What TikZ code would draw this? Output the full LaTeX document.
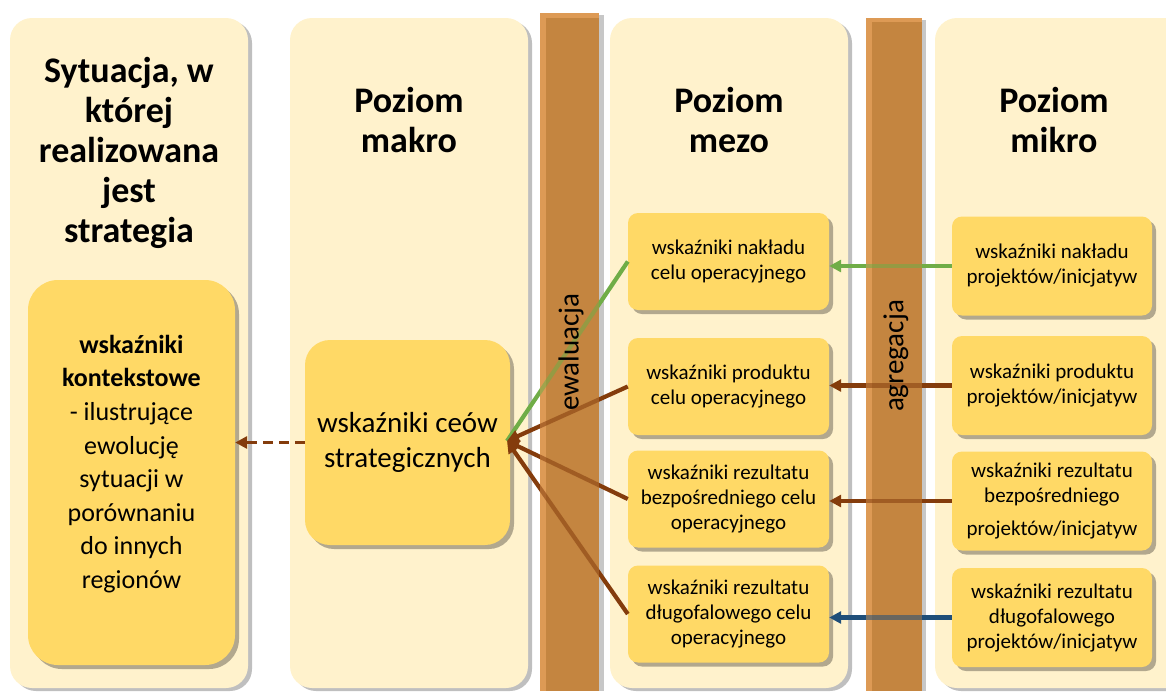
\documentclass[tikz,border=0pt]{standalone}
\usepackage{fontspec}
\setmainfont{Carlito}
\usetikzlibrary{shadows,arrows.meta}
\definecolor{colbg}{HTML}{FFF2CC}
\definecolor{boxbg}{HTML}{FFD966}
\definecolor{barc}{HTML}{C48540}
\definecolor{barl}{HTML}{DD9A55}
\definecolor{grn}{HTML}{70AD47}
\definecolor{brn}{HTML}{843C0C}
\definecolor{blu}{HTML}{1F4E79}
\begin{document}
\begin{tikzpicture}[x=1pt,y=-1pt,
  column/.style={fill=colbg, rounded corners=22pt, minimum width=238pt, minimum height=670pt, inner sep=0pt,
    drop shadow={shadow xshift=4pt,shadow yshift=-3pt,opacity=0.25,fill=black}},
  title/.style={font=\fontsize{36}{40}\selectfont\bfseries, align=center},
  bigbox/.style={fill=boxbg, align=center, inner sep=0pt,
    drop shadow={shadow xshift=4pt,shadow yshift=-4pt,opacity=0.3,fill=black}},
  smallbox/.style={fill=boxbg, rounded corners=10pt, minimum width=201pt, minimum height=97pt, inner sep=0pt,
    align=center, font=\fontsize{21}{25}\selectfont,
    drop shadow={shadow xshift=4pt,shadow yshift=-4pt,opacity=0.3,fill=black}},
  conn/.style={line width=4.2pt, -{Triangle[length=12pt,width=12pt]}},
  barlabel/.style={font=\fontsize{29}{32}\selectfont, rotate=90}
]
\useasboundingbox (0,0) rectangle (1166,691);
\clip (0,0) rectangle (1166,691);

% columns
\node[column] (c1) at (129,353) {};
\node[column] (c2) at (409,353) {};
\node[column] (c3) at (729,353) {};
\node[column, minimum width=260pt] (c4) at (1065,353) {};

% titles
\node[title] (t1) at (129,153) {Sytuacja, w\\której\\realizowana\\jest\\strategia};
\node[title] (t2) at (409,120) {Poziom\\makro};
\node[title] (t3) at (729,120) {Poziom\\mezo};
\node[title] (t4) at (1054,120) {Poziom\\mikro};

% bars (base)
\fill[barl] (540,13) rectangle (599,691);
\fill[barc] (546,18) rectangle (599,691);
\fill[black!22] (599,15) rectangle (604,691);
\fill[barl] (866,18) rectangle (922,691);
\fill[barc] (872,22) rectangle (922,691);
\fill[black!22] (922,20) rectangle (926,691);

% boxes
\node[bigbox, rounded corners=30pt, minimum width=207pt, minimum height=385pt] (ctx) at (131.5,472.5) {};
\node[align=center, font=\fontsize{26}{33.6}\selectfont] (ctxt) at (131.5,464)
  {\textbf{wskaźniki}\\\textbf{kontekstowe}\\- ilustrujące\\ewolucję\\sytuacji w\\porównaniu\\do innych\\regionów};
\node[bigbox, rounded corners=25pt, minimum width=205pt, minimum height=205pt,
      font=\fontsize{29}{35}\selectfont] (mac) at (407.5,442.5)
  {wskaźniki ceów\\strategicznych};

\node[smallbox] (mz1) at (728.5,261.5) {wskaźniki nakładu\\celu operacyjnego};
\node[smallbox] (mz2) at (728.5,386.5) {wskaźniki produktu\\celu operacyjnego};
\node[smallbox] (mz3) at (728.5,499) {wskaźniki rezultatu\\bezpośredniego celu\\operacyjnego};
\node[smallbox] (mz4) at (728.5,614) {wskaźniki rezultatu\\długofalowego celu\\operacyjnego};

\node[smallbox, minimum width=200pt, minimum height=99pt] (mk1) at (1052,266) {wskaźniki nakładu\\projektów/inicjatyw};
\node[smallbox, minimum width=200pt, minimum height=99pt] (mk2) at (1052,385.5) {wskaźniki produktu\\projektów/inicjatyw};
\node[smallbox, minimum width=200pt, minimum height=99pt] (mk3) at (1052,501) {wskaźniki rezultatu\\bezpośredniego\\[8pt]projektów/inicjatyw};
\node[smallbox, minimum width=200pt, minimum height=99pt] (mk4) at (1052,617.5) {wskaźniki rezultatu\\długofalowego\\projektów/inicjatyw};

% connectors
\coordinate (tip) at (507,441);
\draw[brn, line width=3.5pt, dash pattern=on 10pt off 6pt, -{Triangle[length=12pt,width=12pt]}]
  (mac.west) -- (mac.west -| ctx.east);
\draw[conn, grn, -] (mz1.west) -- (tip);
\draw[conn, brn] (mz2.west) -- (tip);
\draw[conn, brn] (mz3.west) -- (tip);
\draw[conn, brn] (mz4.west) -- (tip);
\draw[conn, grn] (mk1.west) -- (mk1.west -| mz1.east);
\draw[conn, brn] (mk2.west) -- (mk2.west -| mz2.east);
\draw[conn, brn] (mk3.west) -- (mk3.west -| mz3.east);
\draw[conn, blu] (mk4.west) -- (mk4.west -| mz4.east);

% bars (translucent overlay over the connectors)
\fill[barl, opacity=0.45] (540,13) rectangle (546,691);
\fill[barc, opacity=0.45] (546,18) rectangle (599,691);
\fill[barl, opacity=0.45] (866,18) rectangle (872,691);
\fill[barc, opacity=0.45] (872,22) rectangle (922,691);

\node[barlabel] (ev) at (571,352) {ewaluacja};
\node[barlabel] (ag) at (896,356) {agregacja};
\end{tikzpicture}
\end{document}
